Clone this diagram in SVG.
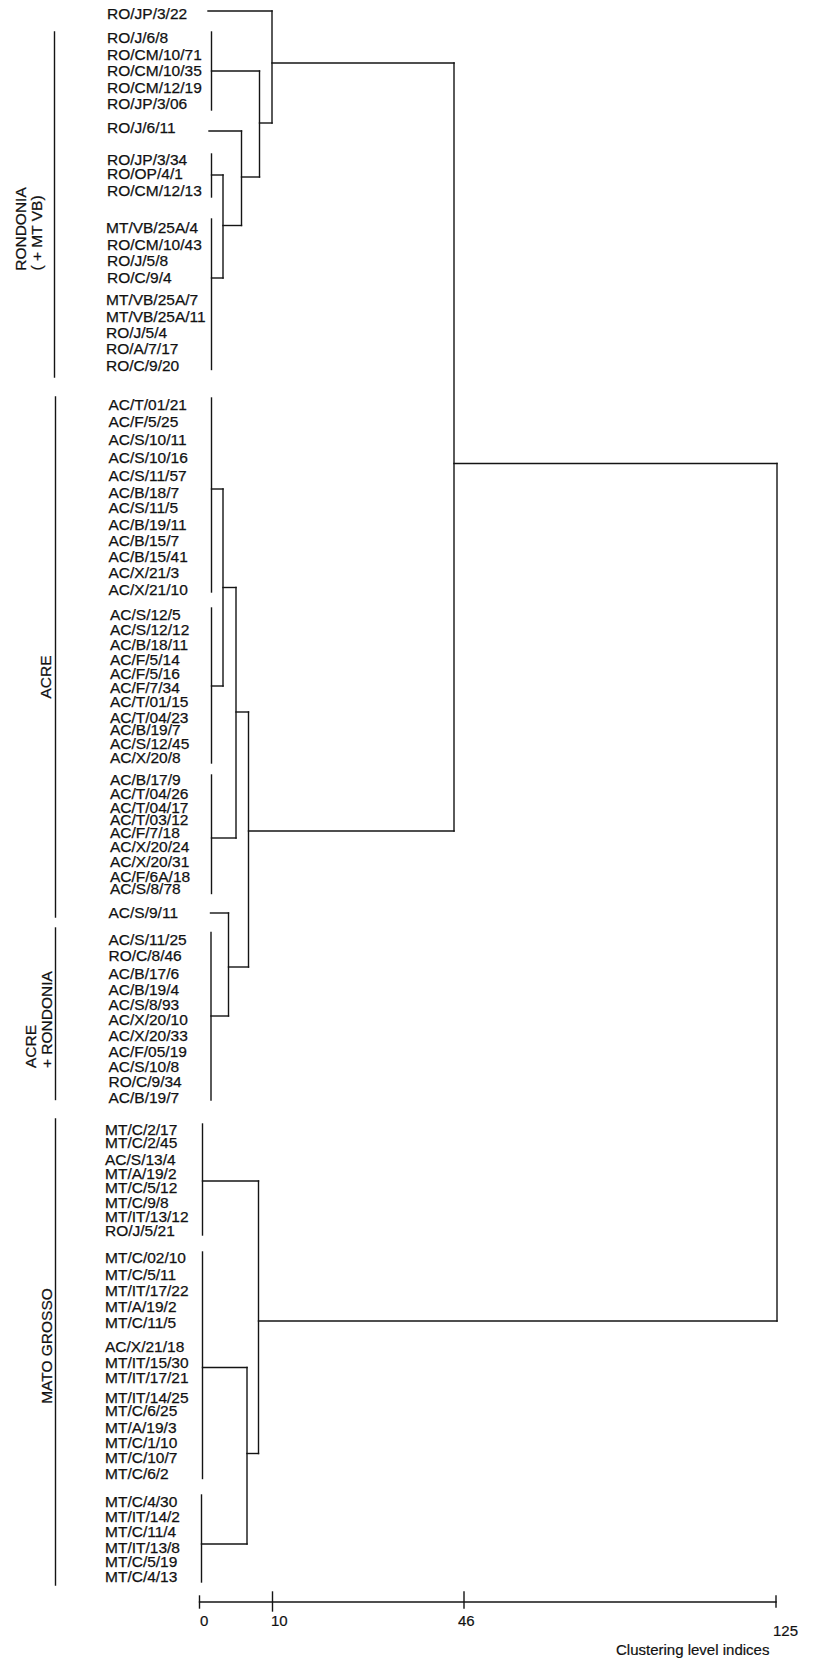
<svg xmlns="http://www.w3.org/2000/svg" width="815" height="1665" viewBox="0 0 815 1665">
<style>
.bg{fill:#ffffff}
.ln{stroke:#141414;stroke-width:1.4;fill:none;stroke-linecap:square}
.lb{font-family:"Liberation Sans",Arial,sans-serif;font-size:15.5px;fill:#111;stroke:#111;stroke-width:0.25}
.gl{font-family:"Liberation Sans",Arial,sans-serif;font-size:15.5px;fill:#111;stroke:#111;stroke-width:0.25}
.ax{font-family:"Liberation Sans",Arial,sans-serif;font-size:15px;fill:#111;stroke:#111;stroke-width:0.2}
</style>
<rect class="bg" x="0" y="0" width="815" height="1665"/>

<g id="group-labels">
  <g id="g-rondonia">
    <path class="ln" d="M54.5,32 V377"/>
    <text class="gl" transform="translate(26,229) rotate(-90)" text-anchor="middle">RONDONIA</text>
    <text class="gl" transform="translate(41.5,233) rotate(-90)" text-anchor="middle">( + MT VB)</text>
  </g>
  <g id="g-acre">
    <path class="ln" d="M55.5,397 V917"/>
    <text class="gl" transform="translate(50.5,677) rotate(-90)" text-anchor="middle">ACRE</text>
  </g>
  <g id="g-acre-rondonia">
    <path class="ln" d="M55.5,928 V1099.5"/>
    <text class="gl" transform="translate(36,1068) rotate(-90)" text-anchor="start">ACRE</text>
    <text class="gl" transform="translate(51.5,1068) rotate(-90)" text-anchor="start">+ RONDONIA</text>
  </g>
  <g id="g-mato-grosso">
    <path class="ln" d="M55.5,1119 V1585"/>
    <text class="gl" transform="translate(51.5,1346) rotate(-90)" text-anchor="middle">MATO GROSSO</text>
  </g>
</g>

<g id="leaves-rondonia" class="lb">
  <text x="107" y="19">RO/JP/3/22</text>
  <text x="107" y="43.3">RO/J/6/8</text>
  <text x="107" y="60">RO/CM/10/71</text>
  <text x="107" y="76">RO/CM/10/35</text>
  <text x="107" y="92.7">RO/CM/12/19</text>
  <text x="107" y="109.3">RO/JP/3/06</text>
  <text x="107" y="133.3">RO/J/6/11</text>
  <text x="107" y="165">RO/JP/3/34</text>
  <text x="107" y="179.3">RO/OP/4/1</text>
  <text x="107" y="195.7">RO/CM/12/13</text>
  <text x="106" y="233.3">MT/VB/25A/4</text>
  <text x="107" y="250">RO/CM/10/43</text>
  <text x="107" y="266">RO/J/5/8</text>
  <text x="107" y="283.3">RO/C/9/4</text>
  <text x="106" y="305">MT/VB/25A/7</text>
  <text x="106" y="322">MT/VB/25A/11</text>
  <text x="106" y="337.7">RO/J/5/4</text>
  <text x="106" y="354.3">RO/A/7/17</text>
  <text x="106" y="371">RO/C/9/20</text>
</g>

<g id="leaves-acre" class="lb">
  <text x="108.5" y="410">AC/T/01/21</text>
  <text x="108.5" y="426.7">AC/F/5/25</text>
  <text x="108.5" y="445">AC/S/10/11</text>
  <text x="108.5" y="462.7">AC/S/10/16</text>
  <text x="108.5" y="481">AC/S/11/57</text>
  <text x="108.5" y="498.3">AC/B/18/7</text>
  <text x="108.5" y="512.7">AC/S/11/5</text>
  <text x="108.5" y="530">AC/B/19/11</text>
  <text x="108.5" y="546">AC/B/15/7</text>
  <text x="108.5" y="561.7">AC/B/15/41</text>
  <text x="108.5" y="578.3">AC/X/21/3</text>
  <text x="108.5" y="595">AC/X/21/10</text>
  <text x="110" y="620">AC/S/12/5</text>
  <text x="110" y="635">AC/S/12/12</text>
  <text x="110" y="650">AC/B/18/11</text>
  <text x="110" y="665">AC/F/5/14</text>
  <text x="110" y="679.3">AC/F/5/16</text>
  <text x="110" y="692.7">AC/F/7/34</text>
  <text x="110" y="707.3">AC/T/01/15</text>
  <text x="110" y="722.7">AC/T/04/23</text>
  <text x="110" y="735">AC/B/19/7</text>
  <text x="110" y="749.3">AC/S/12/45</text>
  <text x="110" y="763.3">AC/X/20/8</text>
  <text x="110" y="785">AC/B/17/9</text>
  <text x="110" y="799.3">AC/T/04/26</text>
  <text x="110" y="812.7">AC/T/04/17</text>
  <text x="110" y="825">AC/T/03/12</text>
  <text x="110" y="837.7">AC/F/7/18</text>
  <text x="110" y="851.7">AC/X/20/24</text>
  <text x="110" y="866.7">AC/X/20/31</text>
  <text x="110" y="881.7">AC/F/6A/18</text>
  <text x="110" y="894">AC/S/8/78</text>
</g>

<g id="leaves-acre-rondonia" class="lb">
  <text x="108.5" y="918.3">AC/S/9/11</text>
  <text x="108.5" y="945">AC/S/11/25</text>
  <text x="108.5" y="960.5">RO/C/8/46</text>
  <text x="108.5" y="979.3">AC/B/17/6</text>
  <text x="108.5" y="995">AC/B/19/4</text>
  <text x="108.5" y="1010">AC/S/8/93</text>
  <text x="108.5" y="1025">AC/X/20/10</text>
  <text x="108.5" y="1041">AC/X/20/33</text>
  <text x="108.5" y="1056.7">AC/F/05/19</text>
  <text x="108.5" y="1071.7">AC/S/10/8</text>
  <text x="108.5" y="1086.7">RO/C/9/34</text>
  <text x="108.5" y="1102.7">AC/B/19/7</text>
</g>

<g id="leaves-mato-grosso" class="lb">
  <text x="105" y="1135">MT/C/2/17</text>
  <text x="105" y="1148.3">MT/C/2/45</text>
  <text x="105" y="1165">AC/S/13/4</text>
  <text x="105" y="1179.3">MT/A/19/2</text>
  <text x="105" y="1193.3">MT/C/5/12</text>
  <text x="105" y="1207.7">MT/C/9/8</text>
  <text x="105" y="1221.7">MT/IT/13/12</text>
  <text x="105" y="1236">RO/J/5/21</text>
  <text x="105" y="1263.3">MT/C/02/10</text>
  <text x="105" y="1280">MT/C/5/11</text>
  <text x="105" y="1296">MT/IT/17/22</text>
  <text x="105" y="1311.7">MT/A/19/2</text>
  <text x="105" y="1328.3">MT/C/11/5</text>
  <text x="105" y="1351.7">AC/X/21/18</text>
  <text x="105" y="1367.7">MT/IT/15/30</text>
  <text x="105" y="1383.3">MT/IT/17/21</text>
  <text x="105" y="1402.7">MT/IT/14/25</text>
  <text x="105" y="1416">MT/C/6/25</text>
  <text x="105" y="1432.7">MT/A/19/3</text>
  <text x="105" y="1448.3">MT/C/1/10</text>
  <text x="105" y="1462.7">MT/C/10/7</text>
  <text x="105" y="1479.3">MT/C/6/2</text>
  <text x="105" y="1506.7">MT/C/4/30</text>
  <text x="105" y="1521.7">MT/IT/14/2</text>
  <text x="105" y="1537">MT/C/11/4</text>
  <text x="105" y="1552.7">MT/IT/13/8</text>
  <text x="105" y="1566.7">MT/C/5/19</text>
  <text x="105" y="1581.7">MT/C/4/13</text>
</g>

<g id="connectors" class="ln">
  <path d="M208,11 H272"/>
  <path d="M211.5,32 V110"/>
  <path d="M211.5,71 H259.5"/>
  <path d="M259.5,71 V177"/>
  <path d="M259.5,123 H272"/>
  <path d="M272,11 V123"/>
  <path d="M272,63 H454"/>
  <path d="M209,131 H241.5"/>
  <path d="M241.5,131 V225.5"/>
  <path d="M241.5,177 H259.5"/>
  <path d="M211.5,154 V197"/>
  <path d="M211.5,175 H223"/>
  <path d="M223,175 V278"/>
  <path d="M223,225.5 H241.5"/>
  <path d="M211.5,219 V369.5"/>
  <path d="M211.5,278 H223"/>
  <path d="M454,63 V831"/>
  <path d="M454,463.5 H777"/>
  <path d="M777,463.5 V1321"/>
  <path d="M211.5,398 V592"/>
  <path d="M211.5,489 H223"/>
  <path d="M211.5,608 V763"/>
  <path d="M211.5,686 H223"/>
  <path d="M223,489 V686"/>
  <path d="M223,587.5 H236"/>
  <path d="M211.5,775 V893.5"/>
  <path d="M211.5,838 H236"/>
  <path d="M236,587.5 V838"/>
  <path d="M236,712 H248.5"/>
  <path d="M210.5,913 H228.5"/>
  <path d="M211,932.5 V1100"/>
  <path d="M211,1016 H228.5"/>
  <path d="M228.5,913 V1016"/>
  <path d="M228.5,967 H248.5"/>
  <path d="M248.5,712 V967"/>
  <path d="M248.5,831 H454"/>
  <path d="M202.5,1124 V1235"/>
  <path d="M202.5,1181 H258.5"/>
  <path d="M202.5,1252 V1478.5"/>
  <path d="M202.5,1367.5 H247"/>
  <path d="M201.5,1495 V1582"/>
  <path d="M201.5,1544 H247"/>
  <path d="M247,1367.5 V1544"/>
  <path d="M247,1453.5 H258.5"/>
  <path d="M258.5,1181 V1453.5"/>
  <path d="M258.5,1321 H777"/>
</g>

<g id="axis">
  <path class="ln" d="M199.5,1602 H776"/>
  <path class="ln" d="M199.5,1596 V1608"/>
  <path class="ln" d="M272.5,1592 V1611"/>
  <path class="ln" d="M464,1592 V1608"/>
  <path class="ln" d="M776,1596 V1607"/>
  <text class="ax" x="200" y="1626">0</text>
  <text class="ax" x="271" y="1626">10</text>
  <text class="ax" x="458" y="1626">46</text>
  <text class="ax" x="773" y="1636">125</text>
  <text class="ax" x="616" y="1655">Clustering level indices</text>
</g>
</svg>
